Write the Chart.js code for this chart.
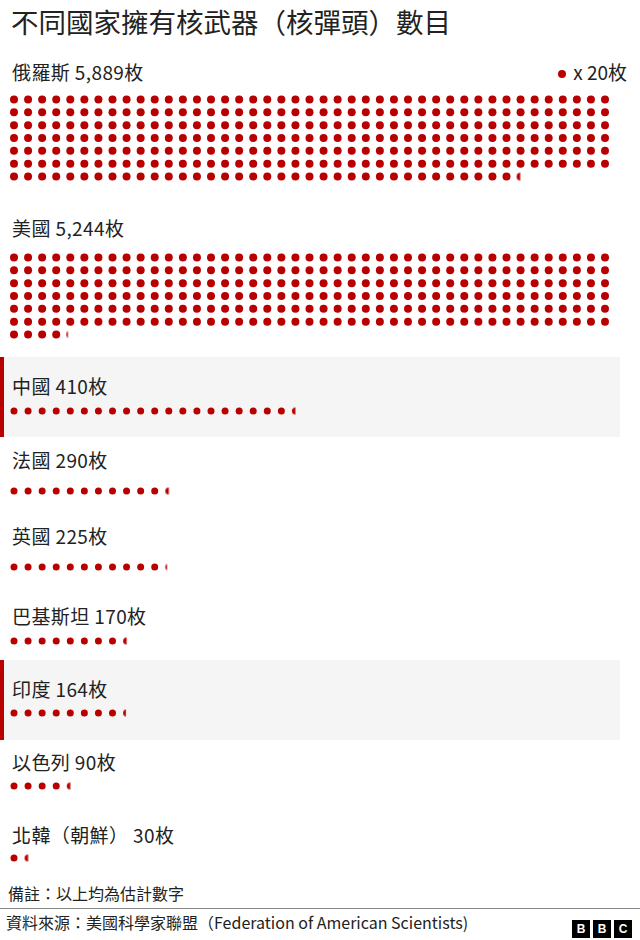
<!DOCTYPE html>
<html>
<head>
<meta charset="utf-8">
<script src="https://cdn.jsdelivr.net/npm/chart.js@4"></script>
<style>
    body { margin: 0; background: #fff; }
    .page {
        position: relative;
        width: 640px;
        height: 940px;
        overflow: hidden;
        font-family: "Noto Sans CJK TC", "Noto Sans", sans-serif;
        color: #222;
    }
    .title { position: absolute; left: 11px; top: 2px; font-size: 27.5px; line-height: 38px; }
    .band { position: absolute; left: 0; width: 616px; height: 80px; background: #f5f5f5; border-left: 4px solid #b80000; }
    .label { position: absolute; left: 12px; font-size: 19px; line-height: 24px; white-space: pre; letter-spacing: 0.4px; }
    .legend { position: absolute; right: 13px; top: 60px; font-size: 19px; line-height: 24px; }
    .legend i { display: inline-block; width: 8px; height: 8px; border-radius: 50%; background: #b80000; margin-right: 7px; vertical-align: 2px; }
    .dots { position: absolute; left: 0; }
    .note { position: absolute; left: 8px; top: 882px; font-size: 16px; line-height: 22px; }
    .rule { position: absolute; left: 0; top: 908px; width: 640px; height: 1px; background: #888; }
    .source { position: absolute; left: 6px; top: 911px; font-size: 16px; line-height: 22px; }
    .bbc { position: absolute; left: 572px; top: 914px; }
    .bbc span {
        display: inline-block; width: 18px; height: 18px; margin-right: 3px; background: #000; color: #fff;
        font: bold 12px/18px "Liberation Sans", sans-serif; text-align: center;
    }
</style>
</head>
<body>
<div class="page" id="page">
    <div class="title">不同國家擁有核武器（核彈頭）數目</div>
    <div class="legend"><i></i>x 20枚</div>
    <div class="note">備註：以上均為估計數字</div>
    <div class="rule"></div>
    <div class="source">資料來源：美國科學家聯盟（Federation of American Scientists)</div>
    <div class="bbc"><span>B</span><span>B</span><span>C</span></div>
</div>
<script>
// 每個點代表 20 枚核彈頭
const countries = ['俄羅斯', '美國', '中國', '法國', '英國', '巴基斯坦', '印度', '以色列', '北韓（朝鮮）'];
const warheads = [5889, 5244, 410, 290, 225, 170, 164, 90, 30];
// 圖上實際畫出的點數 (含最後不完整的點)
const dotsShown = [294.45, 262.2, 20.5, 11.5, 11.25, 8.5, 8.4, 4.5, 1.5];
const highlighted = ['中國', '印度'];
const dotsPerRow = 43;

// 版面位置 (px)
const labelTop = [60, 216, 374, 448, 524, 604, 677, 750, 823];
const firstRowY = [96, 254, 411, 491, 567, 641, 713, 786, 858];
const bandTop = { '中國': 357, '印度': 660 };
const rowGap = 14;
const RED = '#b80000';

const page = document.getElementById('page');

// 最後一個不完整的點: 只畫左邊的一部分
function partialDot(frac, r) {
    const size = Math.ceil(r * 2) + 2;
    const c = document.createElement('canvas');
    c.width = size;
    c.height = size;
    const ctx = c.getContext('2d');
    ctx.beginPath();
    ctx.rect(0, 0, 1 + frac * r * 2, size);
    ctx.clip();
    ctx.fillStyle = RED;
    ctx.beginPath();
    ctx.arc(size / 2, size / 2, r, 0, Math.PI * 2);
    ctx.fill();
    return c;
}

countries.forEach((name, i) => {
    if (highlighted.includes(name)) {
        const band = document.createElement('div');
        band.className = 'band';
        band.style.top = bandTop[name] + 'px';
        page.appendChild(band);
    }

    const label = document.createElement('div');
    label.className = 'label';
    label.style.top = labelTop[i] + 'px';
    label.textContent = `${name} ${warheads[i].toLocaleString('en-US')}枚`;
    page.appendChild(label);

    const whole = Math.floor(dotsShown[i]);
    const frac = dotsShown[i] - whole;
    const radius = i < 2 ? 4 : 3.5;
    const points = [];
    for (let k = 0; k < whole; k++) {
        points.push({ x: k % dotsPerRow, y: Math.floor(k / dotsPerRow) });
    }
    if (frac > 0) points.push({ x: whole % dotsPerRow, y: Math.floor(whole / dotsPerRow) });
    const rows = Math.floor((points.length - 1) / dotsPerRow) + 1;

    const wrap = document.createElement('div');
    wrap.className = 'dots';
    wrap.style.top = (firstRowY[i] - rowGap / 2) + 'px';
    wrap.style.width = '640px';
    wrap.style.height = rows * rowGap + 'px';
    const canvas = document.createElement('canvas');
    wrap.appendChild(canvas);
    page.appendChild(wrap);

    const part = partialDot(frac, radius);

    new Chart(canvas, {
        type: 'scatter',
        data: {
            datasets: [
                {
                    data: points,
                    backgroundColor: RED,
                    borderWidth: 0,
                    pointRadius: radius,
                    pointStyle: (ctx) => (frac > 0 && ctx.dataIndex === whole ? part : 'circle'),
                },
            ],
        },
        options: {
            responsive: true,
            maintainAspectRatio: false,
            animation: false,
            events: [],
            clip: false,
            layout: { padding: { left: 14, right: 35, top: 0, bottom: 0 } },
            plugins: { legend: { display: false }, tooltip: { enabled: false } },
            scales: {
                x: { type: 'linear', min: 0, max: dotsPerRow - 1, display: false },
                y: { type: 'linear', min: -0.5, max: rows - 0.5, reverse: true, display: false },
            },
        },
    });
});
</script>
</body>
</html>
